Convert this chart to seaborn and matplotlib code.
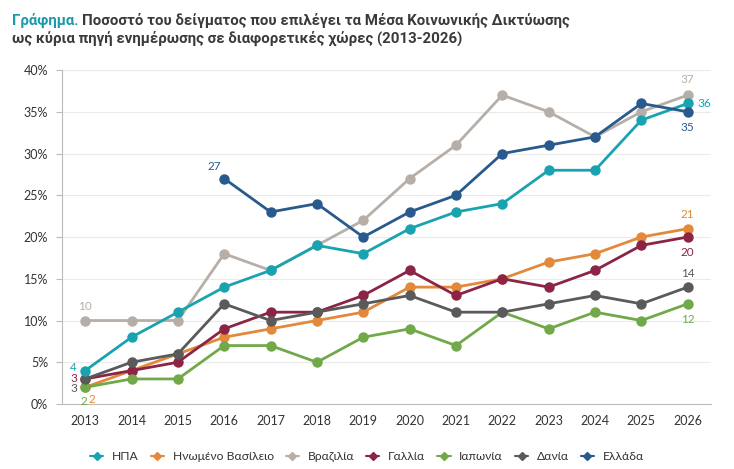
import matplotlib
matplotlib.use("Agg")
import matplotlib.pyplot as plt
import seaborn as sns
import pandas as pd
import numpy as np
from matplotlib.lines import Line2D
from matplotlib.ticker import FixedLocator, PercentFormatter

years = list(range(2013, 2027))
countries = ["ΗΠΑ", "Ηνωμένο Βασίλειο", "Βραζιλία", "Γαλλία", "Ιαπωνία", "Δανία", "Ελλάδα"]
usa = [4, 8, 11, 14, 16, 19, 18, 21, 23, 24, 28, 28, 34, 36]
uk = [2, 4, 6, 8, 9, 10, 11, 14, 14, 15, 17, 18, 20, 21]
brazil = [10, 10, 10, 18, 16, 19, 22, 27, 31, 37, 35, 32, 35, 37]
france = [3, 4, 5, 9, 11, 11, 13, 16, 13, 15, 14, 16, 19, 20]
japan = [2, 3, 3, 7, 7, 5, 8, 9, 7, 11, 9, 11, 10, 12]
denmark = [3, 5, 6, 12, 10, 11, 12, 13, 11, 11, 12, 13, 12, 14]
greece = [np.nan, np.nan, np.nan, 27, 23, 24, 20, 23, 25, 30, 31, 32, 36, 35]
series = [usa, uk, brazil, france, japan, denmark, greece]
colors = ["#19A3B1", "#E2893B", "#B7AFA7", "#8C2445", "#71A94A", "#5A5A5A", "#285A8D"]

rows = []
for c, vals in zip(countries, series):
    for y, v in zip(years, vals):
        if not np.isnan(v):
            rows.append({"year": y, "country": c, "value": v / 100})
df = pd.DataFrame(rows)

sns.set_theme(style="white")
plt.rcParams["font.family"] = ["Lato", "DejaVu Sans"]

fig = plt.figure(figsize=(7.34, 4.69), dpi=100)
ax = fig.add_axes([0.0845, 0.1386, 0.884, 0.712])

pal = dict(zip(countries, colors))
sns.lineplot(data=df, x="year", y="value", hue="country", hue_order=countries,
             palette=pal, marker="o", markersize=7.5, markeredgewidth=0,
             linewidth=2, ax=ax, legend=False)

zorders = {"Βραζιλία": 2, "ΗΠΑ": 4, "Ελλάδα": 5}
for line, c in zip(ax.lines, countries):
    line.set_zorder(zorders.get(c, 3))

ax.set_xlim(2012.5, 2026.5)
ax.set_ylim(0, 0.40)
ax.set_xticks(years)
ax.set_xticklabels([str(y) for y in years])
ax.xaxis.set_minor_locator(FixedLocator(np.arange(2012.5, 2027, 1)))
ax.tick_params(axis="x", which="major", length=0, pad=8, labelsize=9, labelcolor="#333333")
ax.tick_params(axis="x", which="minor", length=4, width=0.8, color="#BBBBBB", direction="out")
ax.set_yticks(np.arange(0, 0.41, 0.05))
ax.yaxis.set_major_formatter(PercentFormatter(1.0, decimals=0))
ax.tick_params(axis="y", length=4, width=0.8, color="#BBBBBB", labelsize=9, labelcolor="#333333", pad=6, left=True)
ax.grid(axis="y", color="#EBEBEB", linewidth=0.8)
ax.set_axisbelow(True)
for s in ["top", "right"]:
    ax.spines[s].set_visible(False)
for s in ["left", "bottom"]:
    ax.spines[s].set_color("#BBBBBB")
    ax.spines[s].set_linewidth(0.8)
ax.set_xlabel("")
ax.set_ylabel("")

# data labels
lab = dict(fontsize=8.5)
def label(ci, idx, dx, dy, ha="center", va="center"):
    v = series[ci][idx]
    ax.annotate(str(int(v)), (years[idx], v / 100), xytext=(dx, dy), textcoords="offset points",
                ha=ha, va=va, color=colors[ci], **lab)

label(0, 0, -6, 2, ha="right")
label(3, 0, -6, 0, ha="right")
label(5, 0, -6, -7, ha="right")
label(4, 0, -1, -10)
label(1, 0, 5, -9)
label(2, 0, 0, 10)
label(6, 3, -7, 9)
label(2, 13, 0, 11)
label(0, 13, 7, 0, ha="left")
label(6, 13, 0, -11)
label(1, 13, 0, 10)
label(3, 13, 0, -11)
label(5, 13, 0, 10)
label(4, 13, 0, -11)

# title
tfont = dict(fontsize=10.8, fontweight="bold", family=["Roboto", "DejaVu Sans"], va="top", ha="left")
fig.text(0.016, 0.972, "Γράφημα.", color="#1A9AAA", **tfont)
fig.canvas.draw()
bb = fig.texts[0].get_window_extent()
x1 = bb.x1 / fig.bbox.width
fig.text(x1 + 0.005, 0.972, "Ποσοστό του δείγματος που επιλέγει τα Μέσα Κοινωνικής Δικτύωσης",
         color="#3A3A3A", **tfont)
fig.text(0.016, 0.934, "ως κύρια πηγή ενημέρωσης σε διαφορετικές χώρες (2013-2026)",
         color="#3A3A3A", **tfont)

handles = [Line2D([0], [0], color=c, marker="D", markersize=4.5, linewidth=1.5) for c in colors]
fig.legend(handles, countries, loc="center", bbox_to_anchor=(0.5, 0.026), ncol=7, frameon=False,
           fontsize=8.7, handlelength=1.1, handletextpad=0.7, columnspacing=1.0,
           labelcolor="#333333")

fig.savefig("out.png", dpi=100)
